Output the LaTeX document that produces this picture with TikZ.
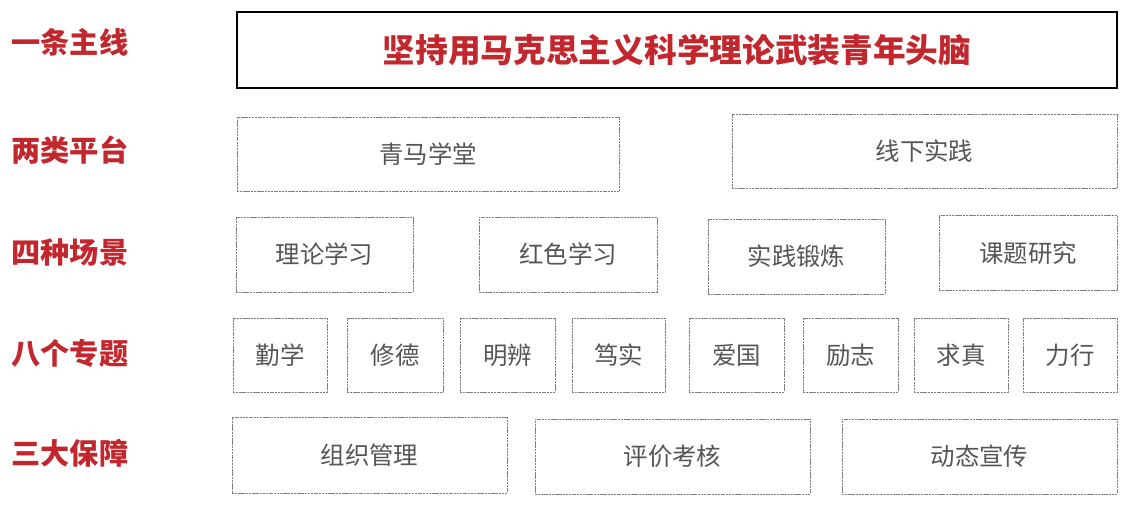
\documentclass[tikz,border=0pt]{standalone}
\usepackage{fontspec}
\newfontfamily\cjk{Noto Sans CJK SC}
\definecolor{rouge}{RGB}{193,39,45}
\definecolor{gristexte}{RGB}{85,85,85}
\begin{document}
\begin{tikzpicture}
		% définition des styles
		\tikzstyle{titre}=[text=rouge,font=\cjk\bfseries\fontsize{16.6pt}{18pt}\selectfont]
		\tikzstyle{ligne}=[rectangle,draw=black,line width=1.6pt,text=rouge,font=\cjk\bfseries\fontsize{18.6pt}{20pt}\selectfont]
		\tikzstyle{cadre}=[rectangle,draw=gray,line width=0.5pt,dash pattern=on 1.2pt off 0.4pt,text=gristexte,font=\cjk\fontsize{13.9pt}{15pt}\selectfont]
		\useasboundingbox (0,0) rectangle (22.6,10.12);
		% les titres
		\node[titre] (t1) at (1.4,9.28) {一条主线};
		\node[titre] (t2) at (1.4,7.12) {两类平台};
		\node[titre] (t3) at (1.4,5.08) {四种场景};
		\node[titre] (t4) at (1.4,3.06) {八个专题};
		\node[titre] (t5) at (1.4,1.06) {三大保障};
		% la ligne principale
		\node[ligne,minimum width=17.6cm,minimum height=1.52cm] (l) at (13.54,9.12) {坚持用马克思主义科学理论武装青年头脑};
		% les plateformes
		\node[cadre,minimum width=7.64cm,minimum height=1.48cm] (qm) at (8.56,7.04) {青马学堂};
		\node[cadre,minimum width=7.7cm,minimum height=1.48cm] (xx) at (18.49,7.1) {线下实践};
		% les scènes
		\node[cadre,minimum width=3.54cm,minimum height=1.5cm] (ll) at (6.49,5.03) {理论学习};
		\node[cadre,minimum width=3.56cm,minimum height=1.5cm] (hs) at (11.36,5.03) {红色学习};
		\node[cadre,minimum width=3.54cm,minimum height=1.5cm] (sj) at (15.93,4.99) {实践锻炼};
		\node[cadre,minimum width=3.56cm,minimum height=1.5cm] (kt) at (20.56,5.06) {课题研究};
		% les thèmes
		\node[cadre,minimum width=1.88cm,minimum height=1.48cm] (qx) at (5.6,3.02) {勤学};
		\node[cadre,minimum width=1.92cm,minimum height=1.48cm] (xd) at (7.9,3.02) {修德};
		\node[cadre,minimum width=1.9cm,minimum height=1.48cm] (mb) at (10.15,3.02) {明辨};
		\node[cadre,minimum width=1.86cm,minimum height=1.48cm] (ds) at (12.37,3.02) {笃实};
		\node[cadre,minimum width=1.9cm,minimum height=1.48cm] (ag) at (14.73,3.02) {爱国};
		\node[cadre,minimum width=1.9cm,minimum height=1.48cm] (lz) at (17.01,3.02) {励志};
		\node[cadre,minimum width=1.88cm,minimum height=1.48cm] (qz) at (19.22,3.02) {求真};
		\node[cadre,minimum width=1.88cm,minimum height=1.48cm] (lx) at (21.4,3.02) {力行};
		% les garanties
		\node[cadre,minimum width=5.5cm,minimum height=1.52cm] (zz) at (7.39,1.02) {组织管理};
		\node[cadre,minimum width=5.5cm,minimum height=1.5cm] (pj) at (13.45,0.99) {评价考核};
		\node[cadre,minimum width=5.5cm,minimum height=1.5cm] (dt) at (19.59,0.99) {动态宣传};
	\end{tikzpicture}
\end{document}
